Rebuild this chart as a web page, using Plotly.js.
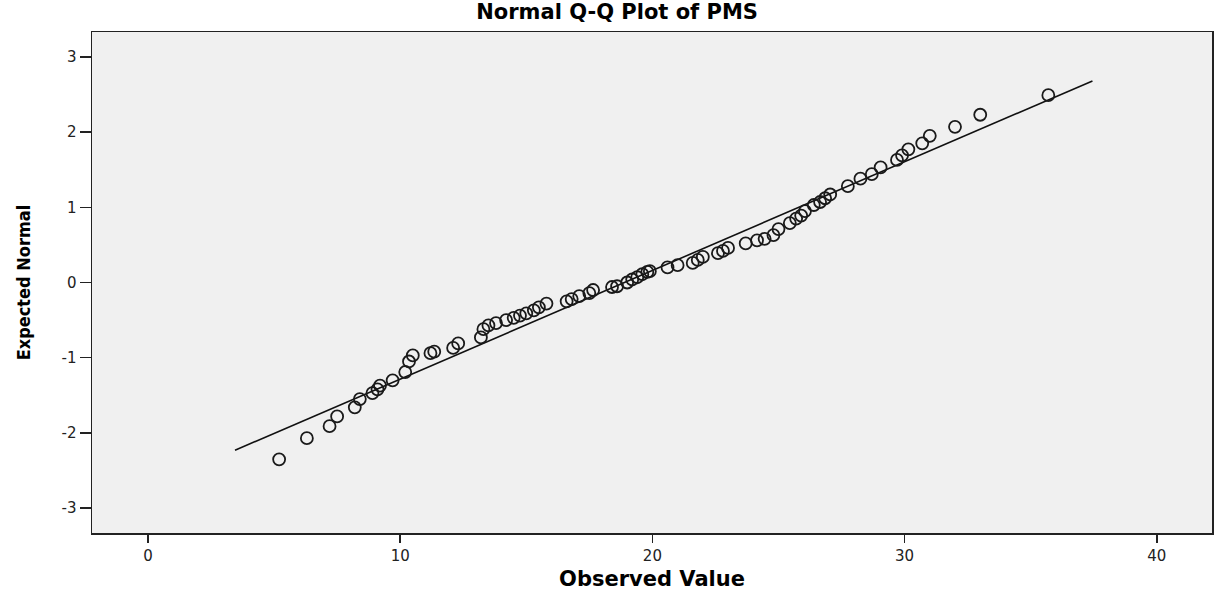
<!DOCTYPE html>
<html>
<head>
<meta charset="utf-8">
<script src="https://cdn.plot.ly/plotly-3.0.1.min.js"></script>
<style>html,body{margin:0;padding:0;background:#fff;}#chart{width:1222px;height:594px;}</style>
</head>
<body>
<div id="chart"></div>
<script>
const observed = [5.2, 6.3, 7.2, 7.5, 8.2, 8.4, 8.9, 9.1, 9.2, 9.7, 10.2, 10.35, 10.5, 11.2, 11.35, 12.1, 12.3,
  13.2, 13.3, 13.5, 13.8, 14.2, 14.5, 14.75, 15.0, 15.3, 15.5, 15.8, 16.6, 16.8, 17.1, 17.5, 17.65,
  18.4, 18.6, 19.0, 19.2, 19.4, 19.6, 19.8, 19.9, 20.6, 21.0, 21.6, 21.8, 22.0, 22.6, 22.8, 23.0,
  23.7, 24.15, 24.45, 24.8, 25.0, 25.45, 25.7, 25.9, 26.05, 26.4, 26.65, 26.85, 27.05, 27.75,
  28.25, 28.7, 29.05, 29.7, 29.9, 30.15, 30.7, 31.0, 32.0, 33.0, 35.7];
const expectedNormal = [-2.35, -2.07, -1.91, -1.78, -1.66, -1.55, -1.47, -1.42, -1.37, -1.30, -1.19, -1.05, -0.97, -0.94, -0.92, -0.87, -0.81,
  -0.73, -0.62, -0.57, -0.54, -0.50, -0.47, -0.44, -0.41, -0.37, -0.33, -0.28, -0.25, -0.22, -0.18, -0.14, -0.10,
  -0.06, -0.05, 0.00, 0.04, 0.07, 0.11, 0.14, 0.15, 0.20, 0.23, 0.26, 0.30, 0.34, 0.39, 0.42, 0.46,
  0.52, 0.56, 0.58, 0.63, 0.71, 0.79, 0.85, 0.89, 0.95, 1.03, 1.07, 1.12, 1.17, 1.28,
  1.38, 1.44, 1.53, 1.63, 1.69, 1.77, 1.85, 1.95, 2.07, 2.23, 2.49];
// Reference line end points
const lineX = [3.45, 37.45];
const lineY = [-2.23, 2.68];
// Tick labels
const xTickVals = [0, 10, 20, 30, 40];
const xTickText = ["0", "10", "20", "30", "40"];
const yTickVals = [-3, -2, -1, 0, 1, 2, 3];
const yTickText = ["-3", "-2", "-1", "0", "1", "2", "3"];

const traces = [
  {x: lineX, y: lineY, type: 'scatter', mode: 'lines',
   line: {color: '#111', width: 1.6}, hoverinfo: 'skip', showlegend: false},
  {x: observed, y: expectedNormal, type: 'scatter', mode: 'markers',
   marker: {symbol: 'circle-open', size: 12, color: '#1a1a1a', line: {width: 1.8, color: '#1a1a1a'}},
   showlegend: false}
];

const tickFont = {family: 'DejaVu Sans, Liberation Sans, sans-serif', size: 15, color: '#222'};
const layout = {
  width: 1222, height: 594,
  margin: {l: 92, r: 10, t: 32, b: 61},
  paper_bgcolor: '#ffffff',
  plot_bgcolor: '#f0f0f0',
  title: {text: 'Normal Q-Q Plot of PMS', x: 0.505, xanchor: 'center', y: 0.981, yanchor: 'middle',
          font: {family: 'DejaVu Sans, Liberation Sans, sans-serif', size: 21, color: '#000', weight: 'bold'}},
  xaxis: {range: [-2.22, 42.19], tickvals: xTickVals, ticktext: xTickText,
          ticks: 'outside', ticklen: 8, tickwidth: 1.5, tickcolor: '#222',
          showline: true, mirror: true, linecolor: '#222', linewidth: 1.5,
          showgrid: false, zeroline: false, tickfont: tickFont, automargin: false,
          title: {text: 'Observed Value', standoff: 8,
                  font: {family: 'DejaVu Sans, Liberation Sans, sans-serif', size: 21, color: '#000', weight: 'bold'}}},
  yaxis: {range: [-3.33, 3.33], tickvals: yTickVals, ticktext: yTickText,
          ticks: 'outside', ticklen: 11, tickwidth: 1.5, tickcolor: '#222',
          showline: true, mirror: true, linecolor: '#222', linewidth: 1.5,
          showgrid: false, zeroline: false, tickfont: tickFont, automargin: false,
          title: {text: 'Expected Normal', standoff: 26,
                  font: {family: 'Liberation Sans Narrow, DejaVu Sans Condensed, Liberation Sans, sans-serif', size: 18, color: '#000', weight: 'bold'}}},
  showlegend: false
};

Plotly.newPlot('chart', traces, layout, {displayModeBar: false, staticPlot: true});
</script>
</body>
</html>
